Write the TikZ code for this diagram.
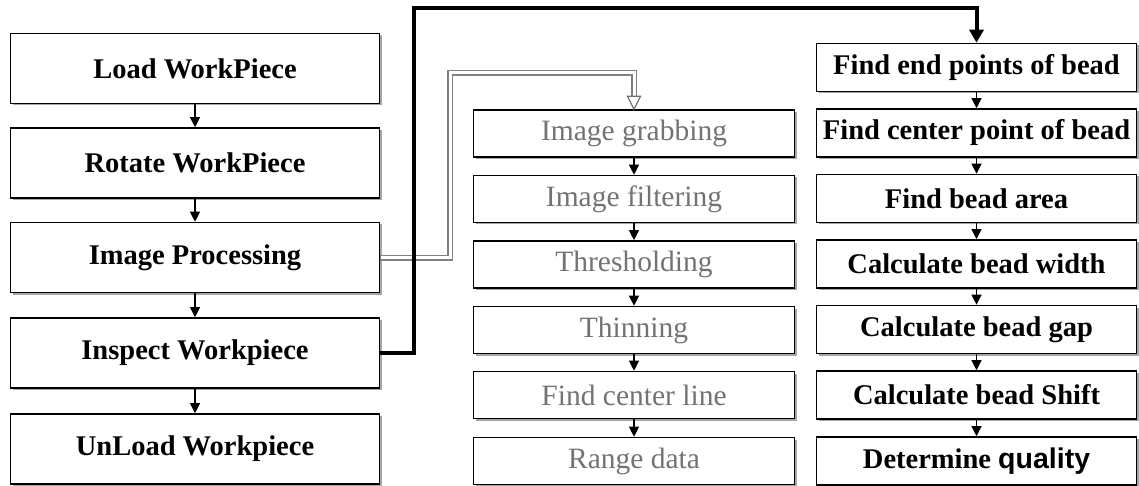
\documentclass[tikz,border=0pt]{standalone}
\usepackage{fontspec}
\setmainfont{Liberation Serif}
\newfontfamily\arialfont{Liberation Sans}
\usetikzlibrary{arrows.meta,shadows}

\begin{document}
\begin{tikzpicture}[x=1pt,y=-1pt,
  box/.style={draw=black, line width=1.6pt, fill=white, inner sep=0pt,
    drop shadow={shadow xshift=2pt, shadow yshift=-2pt, fill=black!35, opacity=1}},
  mainbox/.style={box, minimum width=369pt, minimum height=70pt,
    font=\fontsize{28.5}{31}\selectfont\bfseries},
  subbox/.style={box, minimum width=321pt, minimum height=47pt,
    font=\fontsize{29.5}{32}\selectfont, text=black!55},
  evalbox/.style={box, minimum width=320pt, minimum height=48pt,
    font=\fontsize{28.5}{31}\selectfont\bfseries},
  flow/.style={line width=1.1pt, -{Triangle[width=10pt,length=10pt]}},
  hollow/.style={line width=6pt, draw=black!50, line join=miter},
  hollowin/.style={line width=3pt, draw=white, line join=miter},
  thick link/.style={line width=4pt, line join=miter,
    -{Triangle[width=14pt,length=13pt]}}
]
\useasboundingbox (0,0) rectangle (1139,486);

% main process column
\node[mainbox] (load)   at (195,68.5)  {Load WorkPiece};
\node[mainbox] (rot)    at (195,163)   {Rotate WorkPiece};
\node[mainbox] (proc)   at (195,257.5) {Image Processing};
\node[mainbox] (insp)   at (195,353)   {Inspect Workpiece};
\node[mainbox] (unload) at (195,449)   {UnLoad Workpiece};

% image processing steps
\node[subbox] (grab)   at (634,133.5) {Image grabbing};
\node[subbox] (filt)   at (634,199)   {Image filtering};
\node[subbox] (thr)    at (634,264.5) {Thresholding};
\node[subbox] (thin)   at (634,330)   {Thinning};
\node[subbox] (cline)  at (634,395)   {Find center line};
\node[subbox] (range)  at (634,461)   {Range data};

% inspection steps
\node[evalbox] (ends)  at (976.5,67.5)  {Find end points of bead};
\node[evalbox] (cpt)   at (976.5,133)   {Find center point of bead};
\node[evalbox] (area)  at (976.5,198.5) {Find bead area};
\node[evalbox] (width) at (976.5,264)   {Calculate bead width};
\node[evalbox] (gap)   at (976.5,329.5) {Calculate bead gap};
\node[evalbox] (shift) at (976.5,395)   {Calculate bead Shift};
\node[evalbox] (qual)  at (976.5,461)   {Determine {\arialfont quality}};

% sequential flow
\foreach \a/\b in {load/rot, rot/proc, proc/insp, insp/unload,
                   grab/filt, filt/thr, thr/thin, thin/cline, cline/range,
                   ends/cpt, cpt/area, area/width, width/gap, gap/shift, shift/qual}
  \draw[flow] (\a.south) -- (\b.north);

% hollow link: image processing -> image grabbing
\coordinate (hb) at (450,73);
\coordinate (ht) at ([yshift=13pt]grab.north);
\draw[hollow]   (proc.east) -| (hb) -| (ht);
\draw[hollowin] ([xshift=1pt]proc.east) -| (hb) -| ([yshift=-1pt]ht);
\draw[draw=black!55, line width=1.2pt, fill=white]
  ([xshift=-6.5pt,yshift=13pt]grab.north) -- ([xshift=6.5pt,yshift=13pt]grab.north)
  -- (grab.north) -- cycle;

% thick link: inspect workpiece -> find end points
\coordinate (tb) at (414,8);
\draw[thick link] (insp.east) -| (tb) -| (ends.north);
\end{tikzpicture}
\end{document}
